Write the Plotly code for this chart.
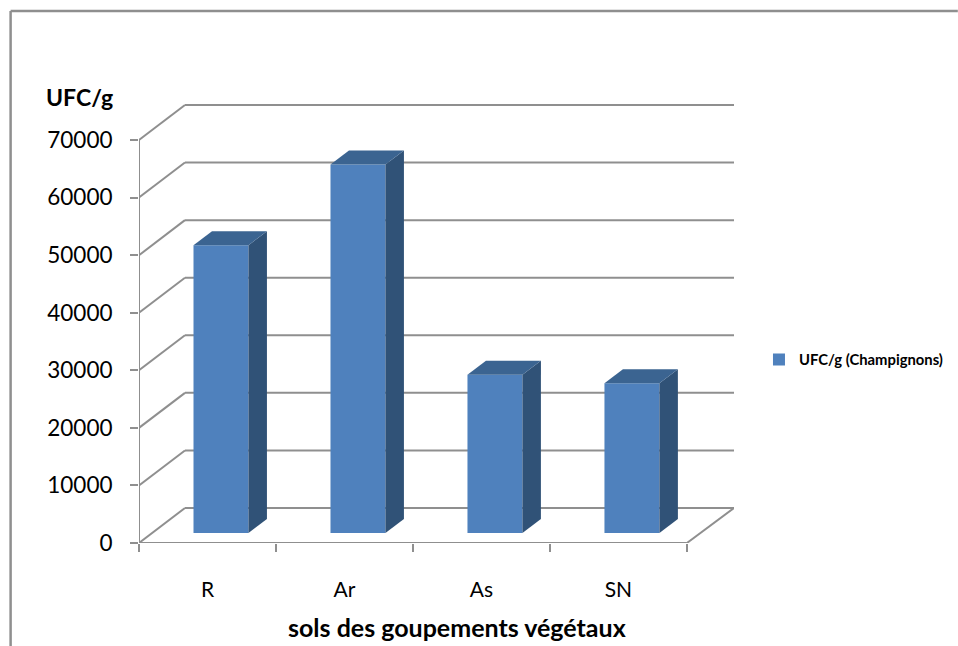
import plotly.graph_objects as go

categories = ["R", "Ar", "As", "SN"]
ufc_values = [50000, 64000, 27500, 26000]
y_ticks = [0, 10000, 20000, 30000, 40000, 50000, 60000, 70000]
series_name = "UFC/g (Champignons)"
x_title = "sols des goupements végétaux"
y_title = "UFC/g"

FONT = "Lato, Carlito, Calibri, sans-serif"
GRAY = "#8f8f8f"
FRONT, SIDE, TOP = "#4f81bd", "#305277", "#3b6491"

# Pixel geometry of the plot area
L, R_EDGE, T, B = 138.5, 734.0, 104.0, 543.0
UNIT_X = 137.1            # px per category
UNIT_Y = 403.0 / 70000    # px per value

xmax = (R_EDGE - L) / UNIT_X
ymax = (B - T) / UNIT_Y
wall_dx = 46.0 / UNIT_X   # back wall offset
wall_dy = 35.0 / UNIT_Y
bar_w = 55.0 / UNIT_X
bar_off = 13.5 / UNIT_X
bar_base = 10.0 / UNIT_Y
bar_dx = 18.5 / UNIT_X    # bar depth
bar_dy = 14.0 / UNIT_Y

positions = [i + 0.5 for i in range(len(categories))]
bar_x = [p + bar_off for p in positions]

fig = go.Figure()

fig.add_trace(go.Bar(
    x=bar_x, y=ufc_values, base=[bar_base] * len(ufc_values), width=bar_w,
    name=series_name, marker=dict(color=FRONT, line=dict(width=0)),
    showlegend=True, hoverinfo="skip",
))

for cx, v in zip(bar_x, ufc_values):
    x0, x1 = cx - bar_w / 2, cx + bar_w / 2
    y0, y1 = bar_base, bar_base + v
    fig.add_trace(go.Scatter(
        x=[x1, x1 + bar_dx, x1 + bar_dx, x1, x1],
        y=[y0, y0 + bar_dy, y1 + bar_dy, y1, y0],
        mode="lines", fill="toself", fillcolor=SIDE, line=dict(width=0),
        showlegend=False, hoverinfo="skip",
    ))
    fig.add_trace(go.Scatter(
        x=[x0, x1, x1 + bar_dx, x0 + bar_dx, x0],
        y=[y1, y1, y1 + bar_dy, y1 + bar_dy, y1],
        mode="lines", fill="toself", fillcolor=TOP, line=dict(width=0),
        showlegend=False, hoverinfo="skip",
    ))

shapes = []


def seg(x0, y0, x1, y1):
    shapes.append(dict(type="line", xref="x", yref="y", x0=x0, y0=y0, x1=x1, y1=y1,
                       layer="below", line=dict(color=GRAY, width=2)))


for v in y_ticks:
    seg(0, v, wall_dx, v + wall_dy)
    seg(wall_dx, v + wall_dy, xmax, v + wall_dy)
seg(0, 0, 0, y_ticks[-1])
seg(0, 0, len(categories), 0)
seg(len(categories), 0, xmax, wall_dy)

# Outer chart frame (top and left edges only are visible)
for x0, y0, x1, y1 in [(10, 11, 958, 11), (10, 11, 10, 646)]:
    shapes.append(dict(type="line", xref="paper", yref="paper",
                       x0=(x0 - L) / (R_EDGE - L), x1=(x1 - L) / (R_EDGE - L),
                       y0=(B - y0) / (B - T), y1=(B - y1) / (B - T),
                       line=dict(color=GRAY, width=2.5)))

annotations = [
    dict(text=f"<b>{y_title}</b>", xref="paper", yref="paper",
         x=(78.5 - L) / (R_EDGE - L), y=(B - 97) / (B - T), showarrow=False,
         xanchor="center", yanchor="middle", font=dict(family=FONT, size=23, color="#000")),
    dict(text=f"<b>{x_title}</b>", xref="paper", yref="paper",
         x=(457 - L) / (R_EDGE - L), y=(B - 627) / (B - T), showarrow=False,
         xanchor="center", yanchor="middle", font=dict(family=FONT, size=25, color="#000")),
]

fig.update_layout(
    width=958, height=646,
    margin=dict(l=L, r=958 - R_EDGE, t=T, b=646 - B, pad=0, autoexpand=False),
    paper_bgcolor="white", plot_bgcolor="white",
    shapes=shapes, annotations=annotations, showlegend=True,
    legend=dict(x=(759 - L) / (R_EDGE - L), y=(B - 360) / (B - T), xanchor="left", yanchor="middle",
                bgcolor="rgba(0,0,0,0)", font=dict(family=FONT, size=14.8, color="#000", weight="bold")),
    font=dict(family=FONT),
    xaxis=dict(range=[0, xmax], tickmode="array", tickvals=positions, ticktext=categories,
               ticks="", showgrid=False, zeroline=False, showline=False,
               ticklabelstandoff=32, tickfont=dict(family=FONT, size=21, color="#000"),
               minor=dict(tickmode="array", tickvals=list(range(len(categories) + 1)),
                          ticks="outside", ticklen=8, tickwidth=2, tickcolor=GRAY, showgrid=False)),
    yaxis=dict(range=[0, ymax], tickmode="array", tickvals=y_ticks,
               tickformat="d", ticks="outside", ticklen=8, tickwidth=2, tickcolor=GRAY,
               showgrid=False, zeroline=False, showline=False,
               ticklabelstandoff=13, tickfont=dict(family=FONT, size=22.5, color="#000")),
)

fig.write_html("out.html", config=dict(displayModeBar=False),
               post_script="document.body.style.margin='0';document.body.style.overflow='hidden';")
